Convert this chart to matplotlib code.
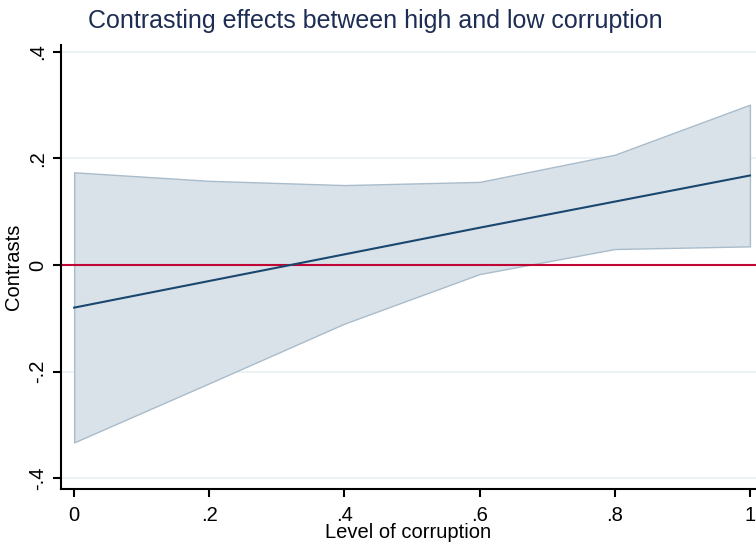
import matplotlib
matplotlib.use("Agg")
import matplotlib.pyplot as plt

x = [0.0, 0.2, 0.4, 0.6, 0.8, 1.0]
contrast = [-0.080, -0.030, 0.020, 0.070, 0.119, 0.168]
ci_low = [-0.333, -0.222, -0.110, -0.017, 0.030, 0.035]
ci_high = [0.174, 0.158, 0.150, 0.156, 0.207, 0.301]
xticks = [0, 0.2, 0.4, 0.6, 0.8, 1.0]
xticklabels = ["0", ".2", ".4", ".6", ".8", "1"]
yticks = [-0.4, -0.2, 0, 0.2, 0.4]
yticklabels = ["-.4", "-.2", "0", ".2", ".4"]

plt.rcParams['font.family'] = ['Liberation Sans', 'DejaVu Sans']

fig = plt.figure(figsize=(7.56, 5.45), dpi=100)
ax = fig.add_axes([61/756, 56/545, 1 - 61/756, (489-45)/545])

for yt in yticks:
    ax.axhline(yt, color='#eaf0f3', lw=1.2, zorder=0)

ax.fill_between(x, ci_low, ci_high, facecolor='#dae2e9', edgecolor='#a9bccb', lw=1.0, zorder=1)
ax.axhline(0, color='#c10534', lw=1.5, zorder=2)
ax.plot(x, contrast, color='#1a476f', lw=1.5, zorder=3)

ax.set_xlim(-0.0195, 1.009)
ax.set_ylim(-0.4205, 0.413)
ax.set_xticks(xticks)
ax.set_xticklabels(xticklabels)
ax.set_yticks(yticks)
ax.set_yticklabels(yticklabels, rotation=90, va='center')

for s in ['top', 'right']:
    ax.spines[s].set_visible(False)
for s in ['left', 'bottom']:
    ax.spines[s].set_linewidth(1.5)
    ax.spines[s].set_color('black')
ax.tick_params(axis='both', direction='out', length=6, width=1.5, labelsize=14.5, colors='black')
ax.tick_params(axis='x', pad=6)
ax.tick_params(axis='y', pad=4)

ax.set_xlabel("Level of corruption", fontsize=14.5)
ax.xaxis.set_label_coords(0.5, -(523 - 489) / 444)
ax.set_ylabel("Contrasts", fontsize=14.5)
ax.yaxis.set_label_coords(-(61 - 23) / 695, 0.5)
fig.text(0.497, 0.962, "Contrasting effects between high and low corruption",
         ha='center', va='center', fontsize=18, color='#1e2d53')

fig.savefig("out.png", dpi=100)
